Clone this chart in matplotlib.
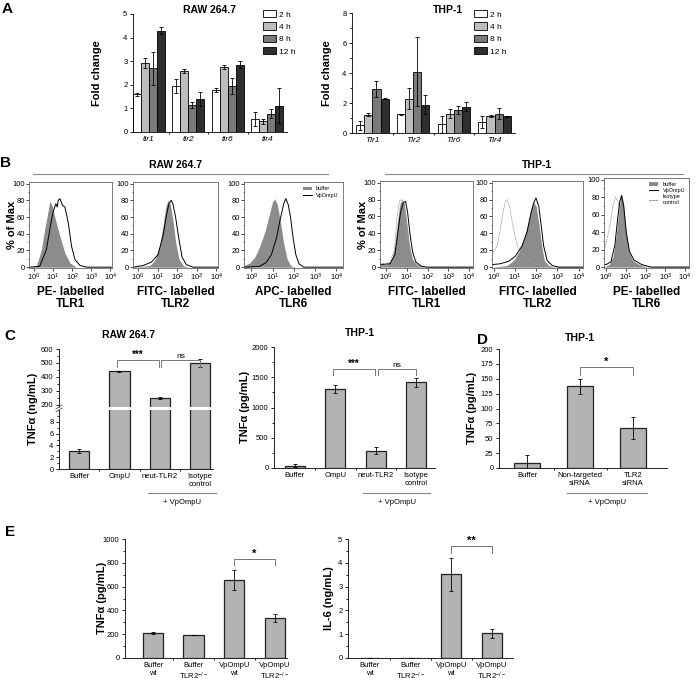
import numpy as np
import matplotlib
matplotlib.use("Agg")
import matplotlib.pyplot as plt
from matplotlib.patches import Patch
from matplotlib.lines import Line2D
from matplotlib.ticker import MultipleLocator, FixedLocator, NullFormatter

plt.rcParams['font.family'] = ['Liberation Sans', 'DejaVu Sans']
plt.rcParams['mathtext.fontset'] = 'custom'
plt.rcParams['mathtext.rm'] = 'Liberation Sans'
plt.rcParams['mathtext.it'] = 'Liberation Sans:italic'
plt.rcParams['mathtext.bf'] = 'Liberation Sans:bold'

# ---------------- data ----------------
# A: fold change, rows = genes, cols = 2h, 4h, 8h, 12h
a_times = ['2 h', '4 h', '8 h', '12 h']
a_colors = ['white', '#bdbdbd', '#7a7a7a', '#2e2e2e']
raw_genes = ['tlr1', 'tlr2', 'tlr6', 'tlr4']
raw_fold = np.array([[1.60, 2.93, 2.70, 4.30],
                     [1.95, 2.60, 1.15, 1.40],
                     [1.78, 2.75, 1.95, 2.85],
                     [0.55, 0.45, 0.78, 1.12]])
raw_err = np.array([[0.06, 0.22, 0.70, 0.14],
                    [0.30, 0.08, 0.14, 0.30],
                    [0.10, 0.07, 0.32, 0.14],
                    [0.30, 0.09, 0.20, 0.73]])
thp_genes = ['Tlr1', 'Tlr2', 'Tlr6', 'Tlr4']
thp_fold = np.array([[0.51, 1.23, 2.93, 2.30],
                     [1.25, 2.28, 4.09, 1.90],
                     [0.58, 1.30, 1.52, 1.74],
                     [0.72, 1.14, 1.30, 1.12]])
thp_err = np.array([[0.28, 0.12, 0.52, 0.05],
                    [0.05, 0.70, 2.30, 0.65],
                    [0.58, 0.27, 0.26, 0.30],
                    [0.40, 0.08, 0.38, 0.03]])

# B: flow histograms, x = log10 fluorescence, y = % of max
r1_buf_x = [-0.26, 0.12, 0.39, 0.56, 0.70, 0.83, 0.95, 1.09, 1.36, 1.62, 1.89, 2.24, 4.09]
r1_buf_y = [0, 1, 21, 45, 62, 79, 74, 60, 37, 17, 5, 0, 0]
r1_omp_x = [-0.26, 0.30, 0.65, 0.86, 1.00, 1.15, 1.22, 1.27, 1.36, 1.50, 1.62, 1.80, 1.97, 2.15, 2.41, 2.77, 4.09]
r1_omp_y = [0, 1, 21, 49, 66, 76, 72, 80, 82, 74, 72, 53, 25, 9, 2, 0, 0]

r2_buf_x = [-0.26, 0.60, 0.85, 1.10, 1.28, 1.41, 1.53, 1.65, 1.79, 1.92, 2.09, 2.30, 2.55, 4.09]
r2_buf_y = [0, 2, 8, 25, 50, 72, 80, 75, 55, 30, 10, 2, 0, 0]
r2_omp_x = [-0.26, 0.26, 0.68, 1.02, 1.28, 1.45, 1.58, 1.70, 1.79, 1.92, 2.08, 2.25, 2.47, 2.80, 4.09]
r2_omp_y = [0, 2, 6, 15, 38, 62, 76, 80, 75, 60, 35, 12, 3, 0, 0]

r6_buf_x = [-0.35, -0.08, 0.16, 0.39, 0.63, 0.83, 0.99, 1.10, 1.22, 1.36, 1.52, 1.68, 1.84, 2.04, 4.31]
r6_buf_y = [2, 5, 12, 25, 42, 62, 78, 82, 75, 55, 28, 10, 2, 0, 0]
r6_omp_x = [-0.35, 0.39, 0.71, 0.94, 1.18, 1.36, 1.52, 1.62, 1.73, 1.84, 1.96, 2.09, 2.24, 2.46, 4.31]
r6_omp_y = [0, 1, 6, 15, 35, 58, 76, 82, 75, 60, 35, 15, 4, 0, 0]

t1_buf_x = [-0.29, 0.03, 0.27, 0.43, 0.56, 0.67, 0.77, 0.88, 0.99, 1.12, 1.26, 1.47, 1.79, 4.19]
t1_buf_y = [3, 3, 8, 25, 55, 75, 80, 75, 55, 28, 10, 3, 0, 0]
t1_omp_x = [-0.29, 0.19, 0.43, 0.59, 0.70, 0.83, 0.94, 1.04, 1.15, 1.28, 1.44, 1.71, 1.95, 4.19]
t1_omp_y = [3, 4, 15, 45, 65, 76, 78, 65, 40, 18, 6, 1, 0, 0]
t1_iso_x = [-0.29, 0.19, 0.40, 0.54, 0.64, 0.75, 0.86, 0.99, 1.15, 1.34, 1.63, 1.90, 4.19]
t1_iso_y = [4, 5, 20, 60, 78, 80, 70, 45, 20, 6, 1, 0, 0]

t2_buf_x = [-0.08, 0.63, 0.94, 1.18, 1.41, 1.60, 1.76, 1.88, 2.00, 2.13, 2.26, 2.38, 2.59, 2.82, 4.20]
t2_buf_y = [0, 2, 8, 18, 33, 50, 68, 77, 72, 50, 25, 8, 2, 0, 0]
t2_omp_x = [-0.08, 0.31, 0.71, 1.02, 1.33, 1.57, 1.76, 1.88, 1.99, 2.12, 2.23, 2.35, 2.51, 2.75, 3.06, 4.20]
t2_omp_y = [3, 4, 7, 13, 25, 42, 65, 76, 82, 72, 50, 25, 8, 2, 0, 0]
t2_iso_x = [-0.08, 0.16, 0.31, 0.44, 0.55, 0.63, 0.74, 0.86, 0.99, 1.13, 1.33, 1.57, 1.80, 2.20, 2.67, 4.20]
t2_iso_y = [15, 25, 45, 65, 78, 80, 72, 55, 38, 25, 15, 10, 6, 2, 0, 0]

t6_buf_x = [-0.11, 0.16, 0.35, 0.50, 0.63, 0.72, 0.78, 0.88, 0.99, 1.13, 1.33, 1.65, 2.04, 4.20]
t6_buf_y = [0, 3, 12, 35, 62, 78, 84, 72, 45, 20, 8, 3, 0, 0]
t6_omp_x = [-0.11, 0.00, 0.24, 0.44, 0.58, 0.69, 0.78, 0.89, 1.02, 1.18, 1.41, 1.80, 2.27, 4.20]
t6_omp_y = [3, 3, 6, 25, 55, 75, 82, 70, 40, 18, 8, 3, 0, 0]
t6_iso_x = [-0.11, 0.08, 0.24, 0.36, 0.47, 0.58, 0.71, 0.83, 0.97, 1.18, 1.41, 1.73, 2.20, 4.20]
t6_iso_y = [20, 35, 55, 72, 80, 76, 65, 45, 25, 12, 5, 2, 0, 0]

# C: TNF-alpha
c_labels = ['Buffer', 'OmpU', 'neut-TLR2', 'Isotype\ncontrol']
c_raw_tnf = [3.0, 442, 248, 500]
c_raw_err = [0.35, 3, 8, 27]
c_thp_tnf = [39, 1302, 288, 1418]
c_thp_err = [20, 65, 60, 75]

# D: siRNA
d_labels = ['Buffer', 'Non-targeted\nsiRNA', 'TLR2\nsiRNA']
d_tnf = [9, 137.5, 68]
d_err = [13, 12.5, 18.5]

# E: knockout
e_labels = ['Buffer\nwt', 'Buffer\nTLR2$^{-/-}$', 'VpOmpU\nwt', 'VpOmpU\nTLR2$^{-/-}$']
e_tnf = [210, 193, 658, 336]
e_tnf_err = [5, 3, 84, 35]
e_il6 = [0.02, 0.02, 3.52, 1.03]
e_il6_err = [0, 0, 0.70, 0.17]

# ---------------- figure ----------------
W, H = 696, 683
fig = plt.figure(figsize=(W / 100, H / 100), dpi=100)


def add_ax(l, t, r, b):
    return fig.add_axes([l / W, 1 - b / H, (r - l) / W, (b - t) / H])


def ftext(x, y, s, **kw):
    fig.text(x / W, 1 - y / H, s, **kw)


def fline(x0, x1, y0, y1, **kw):
    fig.add_artist(Line2D([x0 / W, x1 / W], [1 - y0 / H, 1 - y1 / H], **kw))


def style_bar_ax(ax):
    for s in ['top', 'right']:
        ax.spines[s].set_visible(False)
    for s in ['left', 'bottom']:
        ax.spines[s].set_linewidth(0.6)
    ax.tick_params(which='both', direction='out', width=0.6, labelsize=5.5, pad=1.5)
    ax.tick_params(which='major', length=2.5)
    ax.tick_params(which='minor', length=1.5)
    ax.tick_params(axis='x', which='major', length=0, pad=3)


def bracket(ax, x0, x1, y, drop, label, size=7):
    ax.plot([x0, x0, x1, x1], [y - drop, y, y, y - drop], color='#777777', lw=0.7, clip_on=False)
    ax.text((x0 + x1) / 2, y, label, ha='center', va='bottom', fontsize=size,
            fontweight='bold' if '*' in label else 'normal')


def tnf_bars(ax, vals, errs):
    x = np.arange(len(vals))
    ax.bar(x, vals, 0.5, color='#b3b3b3', edgecolor='#222222', linewidth=0.9,
           yerr=errs, error_kw=dict(ecolor='black', elinewidth=0.6, capsize=1.5, capthick=0.6))
    ax.xaxis.set_minor_locator(FixedLocator(x[:-1] + 0.5))


# panel letters
for lab, x, y in [('A', 2, 2), ('B', 0, 156), ('C', 4, 329), ('D', 477, 333), ('E', 5, 525)]:
    ftext(x, y, lab, fontsize=11, fontweight='bold', va='top')

# ---------------- A ----------------
for rect, fold, err, genes, ymax, step, title, tx, ylx, legx in [
        ((133, 14, 287, 132), raw_fold, raw_err, raw_genes, 5, 1, 'RAW 264.7', 210, 97, 263),
        ((352, 13, 515, 133), thp_fold, thp_err, thp_genes, 8, 2, 'THP-1', 448, 327, 474)]:
    ax = add_ax(*rect)
    xg = np.arange(4)
    for j in range(4):
        ax.bar(xg + (j - 1.5) * 0.2, fold[:, j], 0.2, color=a_colors[j], edgecolor='black',
               linewidth=0.6, yerr=err[:, j], label=a_times[j],
               error_kw=dict(ecolor='black', elinewidth=0.6, capsize=1.3, capthick=0.6))
    style_bar_ax(ax)
    ax.set_ylim(0, ymax)
    ax.yaxis.set_major_locator(MultipleLocator(step))
    if step == 2:
        ax.yaxis.set_minor_locator(MultipleLocator(1))
    ax.set_xlim(-0.4 if ymax == 5 else -0.5, 3.5)
    ax.set_xticks(xg)
    ax.set_xticklabels(genes, fontstyle='italic', fontsize=6)
    ax.xaxis.set_minor_locator(FixedLocator([0.5, 1.5, 2.5]))
    ftext(tx, 10, title, fontsize=7.5, fontweight='bold', ha='center', va='center')
    ftext(ylx, 73, 'Fold change', fontsize=8, fontweight='bold', rotation=90, ha='center', va='center')
    handles = [Patch(facecolor=c, edgecolor='black', linewidth=0.6) for c in a_colors]
    fig.legend(handles, a_times, loc='upper left', bbox_to_anchor=(legx / W, 1 - 10 / H),
               fontsize=6, frameon=False, handlelength=1.5, handleheight=1.0,
               labelspacing=0.45, handletextpad=0.4, borderpad=0, borderaxespad=0)

# ---------------- B ----------------
flow = [
    ((29, 182, 112, 268), -0.26, 4.09, r1_buf_x, r1_buf_y, r1_omp_x, r1_omp_y, None, None, 'PE- labelled\nTLR1'),
    ((133, 182, 218, 268), -0.26, 4.09, r2_buf_x, r2_buf_y, r2_omp_x, r2_omp_y, None, None, 'FITC- labelled\nTLR2'),
    ((244, 182, 343, 268), -0.35, 4.31, r6_buf_x, r6_buf_y, r6_omp_x, r6_omp_y, None, None, 'APC- labelled\nTLR6'),
    ((380, 181, 473, 268), -0.29, 4.19, t1_buf_x, t1_buf_y, t1_omp_x, t1_omp_y, t1_iso_x, t1_iso_y, 'FITC- labelled\nTLR1'),
    ((492, 181, 583, 268), -0.08, 4.20, t2_buf_x, t2_buf_y, t2_omp_x, t2_omp_y, t2_iso_x, t2_iso_y, 'FITC- labelled\nTLR2'),
    ((604, 178, 689, 268), -0.11, 4.20, t6_buf_x, t6_buf_y, t6_omp_x, t6_omp_y, t6_iso_x, t6_iso_y, 'PE- labelled\nTLR6'),
]
for i, (rect, xl, xr, bx, by, ox, oy, ix, iy, xlab) in enumerate(flow):
    ax = add_ax(*rect)
    ax.fill_between(10 ** np.array(bx), by, color='#8c8c8c', lw=0, label='buffer')
    if ix is not None:
        ax.plot(10 ** np.array(ix), iy, color='#9a9a9a', lw=0.6, ls=(0, (2, 1)), label='Isotype\ncontrol')
    ax.plot(10 ** np.array(ox), oy, color='black', lw=0.7, label='VpOmpU')
    ax.set_xscale('log')
    ax.set_xlim(10 ** xl, 10 ** xr)
    ax.set_ylim(-1, 102)
    ax.set_xticks([1, 10, 100, 1000, 10000])
    ax.yaxis.set_major_locator(MultipleLocator(20))
    ax.yaxis.set_minor_locator(MultipleLocator(10))
    ax.xaxis.set_minor_formatter(NullFormatter())
    for s in ax.spines.values():
        s.set_linewidth(0.6)
        s.set_color('#666666')
    ax.tick_params(which='both', direction='out', width=0.5, labelsize=5.5, pad=1)
    ax.tick_params(which='major', length=2)
    ax.tick_params(which='minor', length=1)
    cx = (rect[0] + rect[2]) / 2
    ftext(cx, 286, xlab, fontsize=8.5, fontweight='bold', ha='center', va='top', linespacing=1.0)
    if i == 2:
        handles = [Patch(facecolor='#8c8c8c'), Line2D([], [], color='black', lw=0.7)]
        ax.legend(handles, ['buffer', 'VpOmpU'], loc='upper right', fontsize=4, frameon=False,
                  handlelength=1.6, handleheight=0.7, labelspacing=0.2, borderaxespad=0.4)
    if i == 5:
        handles = [Patch(facecolor='#8c8c8c'), Line2D([], [], color='black', lw=0.7),
                   Line2D([], [], color='#777777', lw=0.7, ls=(0, (2, 1)))]
        ax.legend(handles, ['buffer', 'VpOmpU', 'Isotype\ncontrol'], loc='upper right', fontsize=4,
                  frameon=False, handlelength=1.6, handleheight=0.7, labelspacing=0.2, borderaxespad=0.3)

ftext(12, 225, '% of Max', fontsize=8, fontweight='bold', rotation=90, ha='center', va='center')
ftext(363, 225, '% of Max', fontsize=8, fontweight='bold', rotation=90, ha='center', va='center')
ftext(176, 165, 'RAW 264.7', fontsize=7.5, fontweight='bold', ha='center', va='center')
ftext(537, 165, 'THP-1', fontsize=7.5, fontweight='bold', ha='center', va='center')
fline(33, 328, 174, 174, color='#888888', lw=0.8)
fline(385, 683, 174, 174, color='#888888', lw=0.8)

# ---------------- C left (broken axis) ----------------
ax_hi = add_ax(59, 349, 213, 407)
ax_lo = add_ax(59, 410, 213, 469)
for ax in (ax_hi, ax_lo):
    tnf_bars(ax, c_raw_tnf, c_raw_err)
    style_bar_ax(ax)
    ax.set_xlim(-0.5, 3.32)
ax_hi.set_ylim(185, 600)
ax_hi.yaxis.set_major_locator(FixedLocator([200, 300, 400, 500, 600]))
ax_hi.yaxis.set_minor_locator(FixedLocator([250, 350, 450, 550]))
ax_hi.spines['bottom'].set_visible(False)
ax_hi.set_xticks([])
ax_hi.tick_params(axis='x', which='both', length=0)
ax_lo.set_ylim(0, 10)
ax_lo.set_yticks([0, 2, 4, 6, 8])
ax_lo.yaxis.set_minor_locator(MultipleLocator(1))
ax_lo.set_xticks(range(4))
ax_lo.set_xticklabels(c_labels)
bracket(ax_hi, 0.95, 1.98, 523, 50, '***')
bracket(ax_hi, 2.03, 3.0, 523, 50, 'ns', size=6)
fline(56, 62, 409, 405, color='#555555', lw=0.6)
fline(56, 62, 412, 408, color='#555555', lw=0.6)
ftext(129, 335, 'RAW 264.7', fontsize=7.5, fontweight='bold', ha='center', va='center')
ftext(33, 409, 'TNFα (ng/mL)', fontsize=8, fontweight='bold', rotation=90, ha='center', va='center')

# ---------------- C right ----------------
ax = add_ax(274, 347, 435, 468)
tnf_bars(ax, c_thp_tnf, c_thp_err)
style_bar_ax(ax)
ax.set_xlim(-0.52, 3.47)
ax.set_ylim(0, 2000)
ax.yaxis.set_major_locator(MultipleLocator(500))
ax.yaxis.set_minor_locator(MultipleLocator(250))
ax.set_xticks(range(4))
ax.set_xticklabels(c_labels)
bracket(ax, 0.95, 1.98, 1634, 100, '***')
bracket(ax, 2.05, 3.0, 1634, 100, 'ns', size=6)
ftext(360, 333, 'THP-1', fontsize=7.5, fontweight='bold', ha='center', va='center')
ftext(245, 407, 'TNFα (pg/mL)', fontsize=8, fontweight='bold', rotation=90, ha='center', va='center')

# ---------------- D ----------------
ax = add_ax(499, 349, 667, 468)
tnf_bars(ax, d_tnf, d_err)
style_bar_ax(ax)
ax.set_xlim(-0.53, 2.64)
ax.set_ylim(0, 200)
ax.yaxis.set_major_locator(MultipleLocator(25))
ax.set_xticks(range(3))
ax.set_xticklabels(d_labels)
bracket(ax, 1.0, 2.0, 169.6, 13, '*', size=8)
ftext(580, 338, 'THP-1', fontsize=7.5, fontweight='bold', ha='center', va='center')
ftext(472, 408, 'TNFα (pg/mL)', fontsize=8, fontweight='bold', rotation=90, ha='center', va='center')

# "+ VpOmpU" markers
for x0, x1 in [(148, 216), (363, 430), (567, 647)]:
    fline(x0, x1, 493, 493, color='#888888', lw=0.8)
    ftext((x0 + x1) / 2, 502, '+ VpOmpU', fontsize=5.5, ha='center', va='center')

# ---------------- E ----------------
ax = add_ax(125, 539, 287, 658)
tnf_bars(ax, e_tnf, e_tnf_err)
style_bar_ax(ax)
ax.set_xlim(-0.69, 3.3)
ax.set_ylim(0, 1000)
ax.yaxis.set_major_locator(MultipleLocator(200))
ax.yaxis.set_minor_locator(MultipleLocator(100))
ax.set_xticks(range(4))
ax.set_xticklabels(e_labels)
bracket(ax, 2.0, 3.0, 832, 48, '*', size=8)
ftext(102, 598, 'TNFα (pg/mL)', fontsize=8, fontweight='bold', rotation=90, ha='center', va='center')

ax = add_ax(348, 539, 513, 658)
tnf_bars(ax, e_il6, e_il6_err)
style_bar_ax(ax)
ax.set_xlim(-0.54, 3.52)
ax.set_ylim(0, 5)
ax.yaxis.set_major_locator(MultipleLocator(1))
ax.yaxis.set_minor_locator(MultipleLocator(0.5))
ax.set_xticks(range(4))
ax.set_xticklabels(e_labels)
bracket(ax, 2.0, 3.0, 4.72, 0.29, '**', size=8)
ftext(329, 598, 'IL-6 (ng/mL)', fontsize=8, fontweight='bold', rotation=90, ha='center', va='center')

fig.savefig('out.png', dpi=100)
